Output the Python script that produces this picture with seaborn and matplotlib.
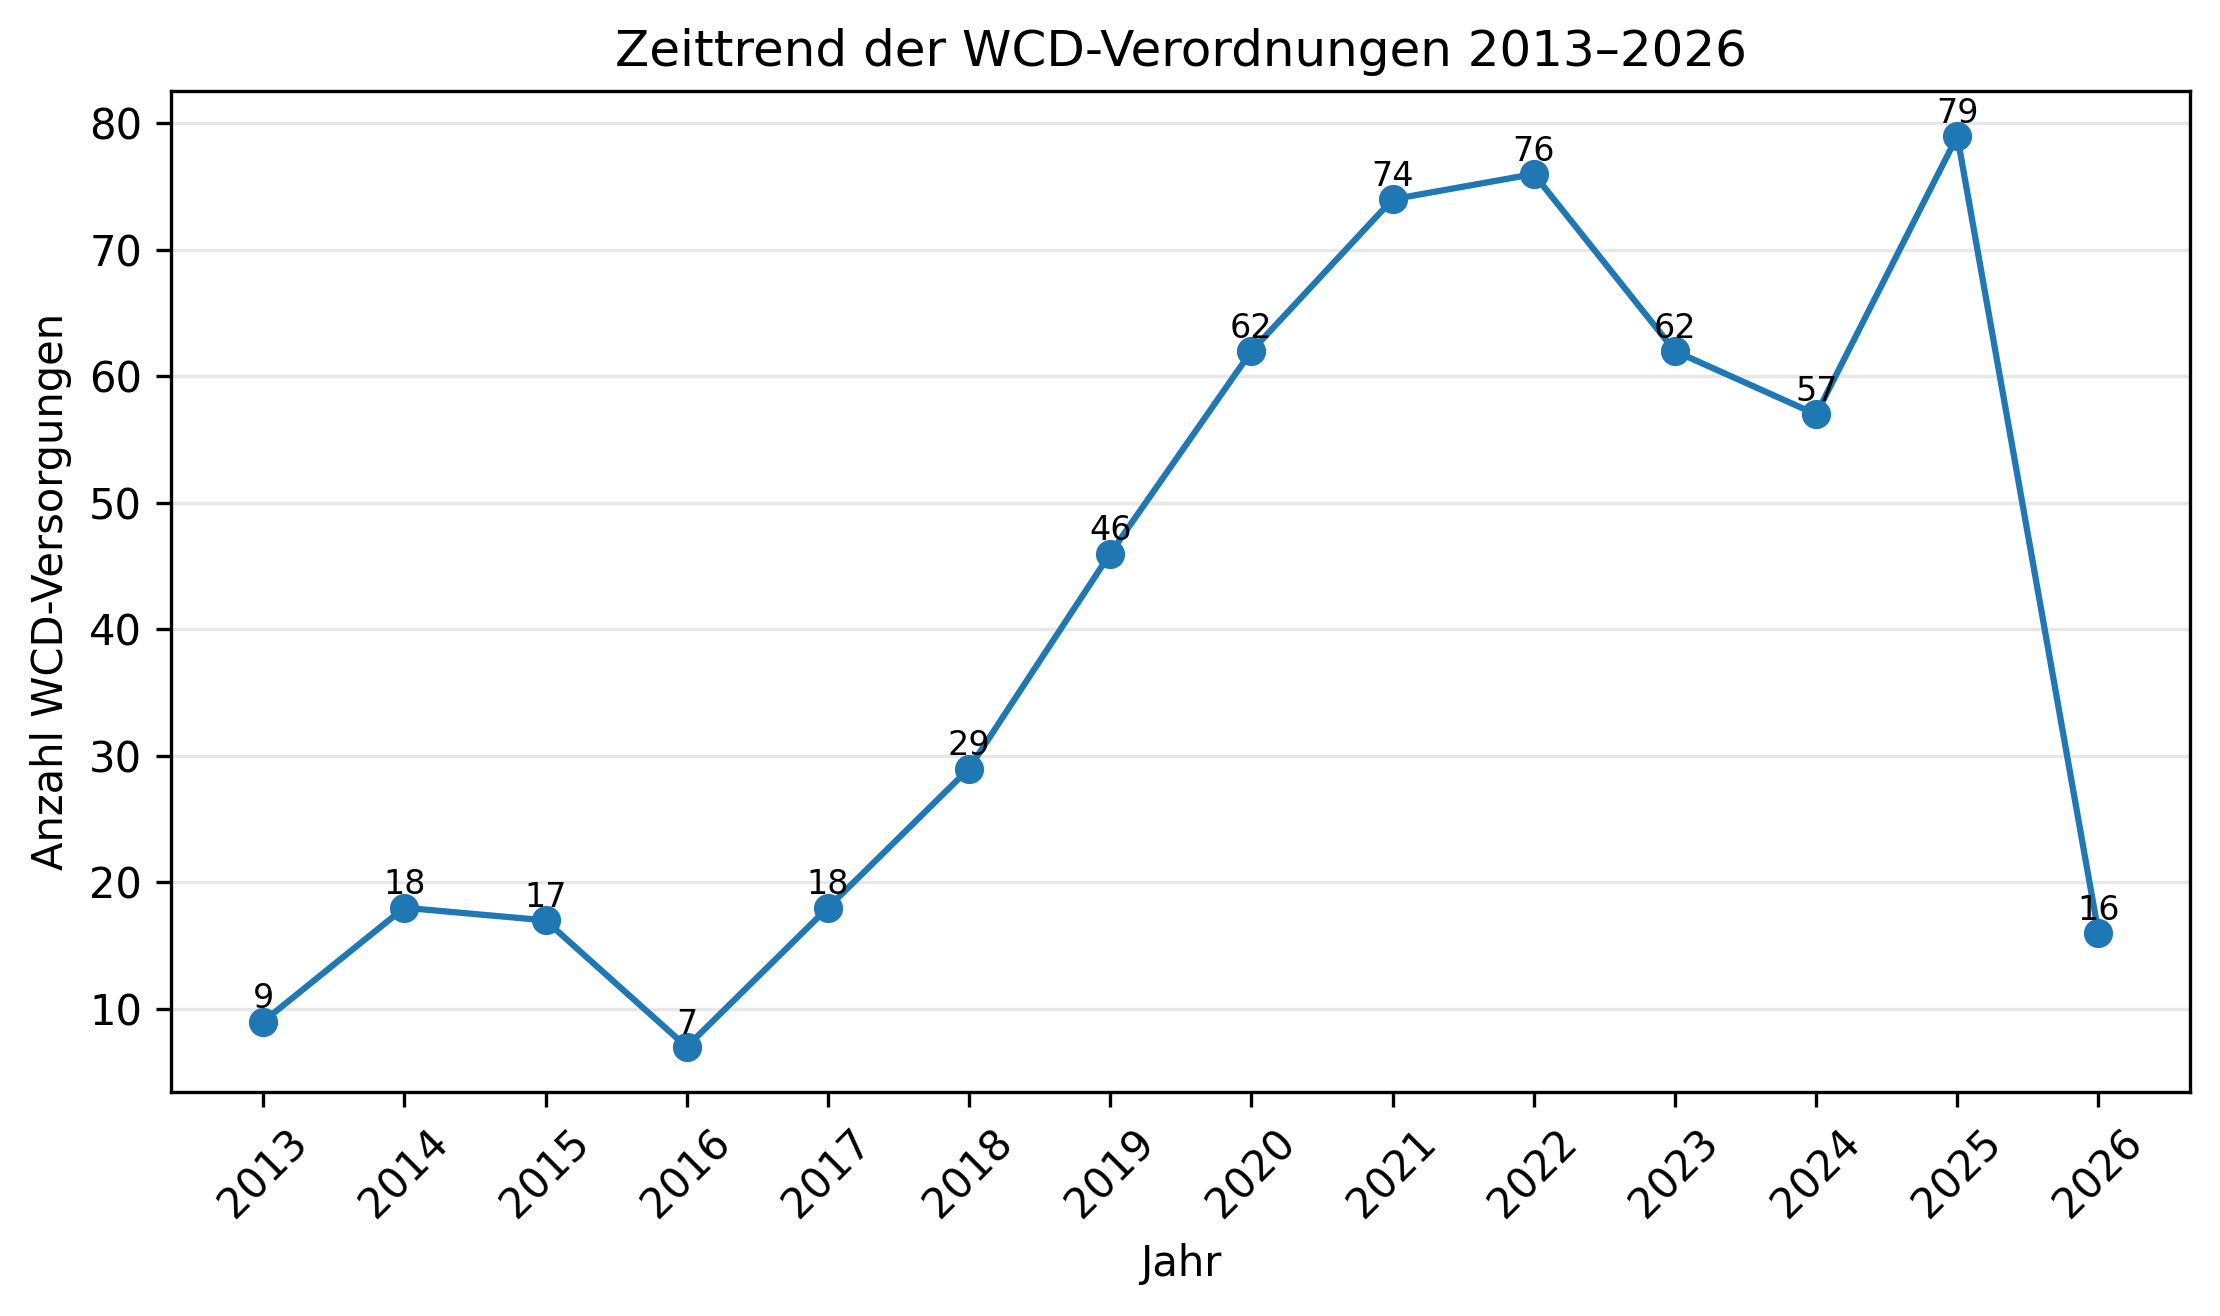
import matplotlib
matplotlib.use("Agg")
import matplotlib.pyplot as plt
import pandas as pd
import seaborn as sns

# Daten: WCD-Verordnungen pro Jahr
jahre = [2013, 2014, 2015, 2016, 2017, 2018, 2019, 2020, 2021, 2022, 2023, 2024, 2025, 2026]
anzahl = [9, 18, 17, 7, 18, 29, 46, 62, 74, 76, 62, 57, 79, 16]


def main():
    df = pd.DataFrame({"Jahr": jahre, "Anzahl": anzahl})

    fig = plt.figure(figsize=(7.4, 4.3867), dpi=300)
    ax = fig.add_axes([0.0772, 0.1699, 0.9094, 0.7613])

    sns.lineplot(data=df, x="Jahr", y="Anzahl", marker="o", color="#1f77b4",
                 linewidth=1.5, markersize=7, markeredgewidth=0,
                 markeredgecolor="#1f77b4", ax=ax)

    # Werte über die Punkte schreiben
    for x, y in zip(df["Jahr"], df["Anzahl"]):
        ax.text(x, y + 0.5, str(y), ha="center", va="bottom", fontsize=8)

    ax.set_title("Zeittrend der WCD-Verordnungen 2013–2026", fontsize=12)
    ax.set_xlabel("Jahr", fontsize=10)
    ax.set_ylabel("Anzahl WCD-Versorgungen", fontsize=10)
    ax.set_xticks(jahre)
    ax.set_xticklabels([str(j) for j in jahre], rotation=45)
    ax.grid(axis="y", alpha=0.3)
    ax.set_axisbelow(True)

    fig.savefig("out.png", dpi=300)


if __name__ == "__main__":
    main()
